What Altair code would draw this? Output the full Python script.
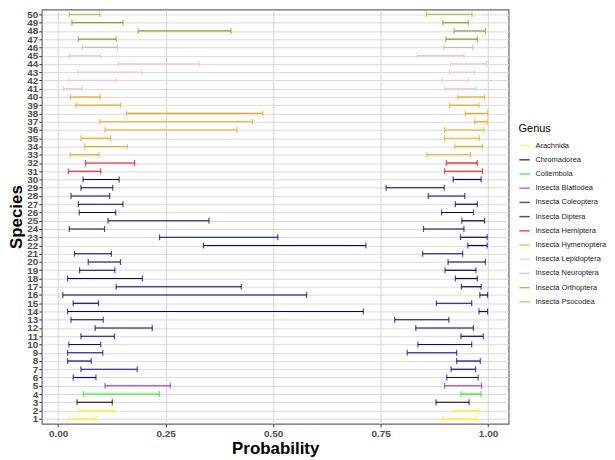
import altair as alt
import pandas as pd

species = list(range(1, 51))
genus = (["Arachnida"] * 2 + ["Chromadorea"] + ["Collembola"] + ["Insecta Blattodea"]
         + ["Insecta Coleoptera"] * 5 + ["Insecta Diptera"] * 20 + ["Insecta Hemiptera"] * 2
         + ["Insecta Hymenoptera"] * 8 + ["Insecta Lepidoptera"] * 5 + ["Insecta Neuroptera"]
         + ["Insecta Orthoptera"] * 3 + ["Insecta Psocodea"])

# low-probability interval (species 1..50)
lo_a = [0.026, 0.049, 0.044, 0.059, 0.109, 0.035, 0.053, 0.022, 0.022, 0.025,
        0.053, 0.086, 0.030, 0.022, 0.035, 0.011, 0.135, 0.022, 0.050, 0.070,
        0.038, 0.338, 0.236, 0.026, 0.116, 0.049, 0.047, 0.030, 0.053, 0.058,
        0.024, 0.064, 0.028, 0.062, 0.053, 0.109, 0.097, 0.159, 0.042, 0.029,
        0.012, 0.025, 0.046, 0.140, 0.026, 0.056, 0.047, 0.186, 0.032, 0.026]
hi_a = [0.088, 0.130, 0.126, 0.236, 0.261, 0.088, 0.184, 0.077, 0.104, 0.099,
        0.131, 0.219, 0.105, 0.710, 0.094, 0.578, 0.426, 0.196, 0.132, 0.145,
        0.124, 0.716, 0.511, 0.108, 0.351, 0.134, 0.151, 0.120, 0.127, 0.142,
        0.099, 0.178, 0.095, 0.161, 0.122, 0.416, 0.452, 0.476, 0.145, 0.098,
        0.056, 0.135, 0.195, 0.328, 0.099, 0.138, 0.135, 0.402, 0.151, 0.097]
# high-probability interval (species 1..50)
lo_b = [0.894, 0.919, 0.879, 0.937, 0.899, 0.904, 0.914, 0.927, 0.812, 0.837,
        0.937, 0.832, 0.783, 0.979, 0.880, 0.981, 0.938, 0.924, 0.900, 0.907,
        0.848, 0.953, 0.936, 0.850, 0.939, 0.892, 0.924, 0.861, 0.763, 0.919,
        0.899, 0.903, 0.858, 0.923, 0.899, 0.899, 0.969, 0.947, 0.911, 0.930,
        0.899, 0.893, 0.910, 0.913, 0.835, 0.897, 0.902, 0.921, 0.895, 0.857]
hi_b = [0.975, 0.980, 0.956, 0.984, 0.985, 0.977, 0.971, 0.982, 0.927, 0.962,
        0.989, 0.966, 0.909, 0.999, 0.962, 0.999, 0.984, 0.975, 0.972, 0.994,
        0.941, 0.998, 0.998, 0.944, 0.992, 0.966, 0.975, 0.946, 0.898, 0.984,
        0.987, 0.975, 0.959, 0.987, 0.980, 0.990, 0.998, 0.999, 0.979, 0.992,
        0.972, 0.954, 0.968, 0.997, 0.944, 0.965, 0.975, 0.994, 0.954, 0.963]

genus_domain = ["Arachnida", "Chromadorea", "Collembola", "Insecta Blattodea",
                "Insecta Coleoptera", "Insecta Diptera", "Insecta Hemiptera",
                "Insecta Hymenoptera", "Insecta Lepidoptera", "Insecta Neuroptera",
                "Insecta Orthoptera", "Insecta Psocodea"]
genus_colors = ["#FFFF00", "#000000", "#00FF00", "#A020F0", "#0000CD", "#000080",
                "#FF0000", "#FFA500", "#FFC0CB", "#BEBEBE", "#7BA428", "#9ACD32"]

rows = []
for i, s in enumerate(species):
    rows.append({"Species": s, "Genus": genus[i], "lo": lo_a[i], "hi": hi_a[i]})
    rows.append({"Species": s, "Genus": genus[i], "lo": lo_b[i], "hi": hi_b[i]})
df = pd.DataFrame(rows)

FONT = "Liberation Sans"

xscale = alt.Scale(domain=[-0.038, 1.048], nice=False, zero=False)
yscale = alt.Scale(domain=[0.4, 50.6], nice=False, zero=False)
legend = alt.Legend(
    title="Genus", orient="none", legendX=480, legendY=114,
    titleFont=FONT, titleFontSize=11, titleFontWeight="normal", titleColor="#000000",
    titlePadding=6,
    labelFont=FONT, labelFontSize=7.5, labelColor="#1A1A1A", labelOffset=5, labelLimit=200,
    symbolType="stroke", symbolSize=110, symbolStrokeWidth=1.5, rowPadding=4.3,
)
color = alt.Color("Genus:N", scale=alt.Scale(domain=genus_domain, range=genus_colors),
                  legend=legend)

xaxis = alt.Axis(values=[0, 0.25, 0.5, 0.75, 1.0], format=".2f", title="Probability",
                 labelFont=FONT, labelFontSize=10, labelFontWeight="bold", labelColor="#4D4D4D",
                 titleFont=FONT, titleFontSize=17, titleFontWeight="bold", titleColor="#000000",
                 titlePadding=2, labelPadding=2, tickSize=3, tickColor="#333333",
                 gridColor="#D4D4D4", domain=False)
yaxis = alt.Axis(values=species, title="Species", labelOverlap=False, labelFlush=False,
                 labelFont=FONT, labelFontSize=10, labelFontWeight="bold", labelColor="#4D4D4D",
                 titleFont=FONT, titleFontSize=17, titleFontWeight="bold", titleColor="#000000",
                 titlePadding=1, labelPadding=1, tickSize=3, tickColor="#333333",
                 gridColor="#D9D9D9", domain=False)

x_lo = alt.X("lo:Q", scale=xscale, axis=xaxis)
x_hi = alt.X("hi:Q", scale=xscale, axis=xaxis)
y_enc = alt.Y("Species:Q", scale=yscale, axis=yaxis)

base = alt.Chart(df)

rule = base.mark_rule(strokeWidth=1.2).encode(x=x_lo, x2="hi:Q", y=y_enc, color=color)
cap_lo = base.mark_tick(orient="vertical", size=6, thickness=1.2).encode(
    x=x_lo, y=y_enc, color=color)
cap_hi = base.mark_tick(orient="vertical", size=6, thickness=1.2).encode(
    x=x_hi, y=y_enc, color=color)

chart = alt.layer(rule, cap_lo, cap_hi).properties(
    width=470, height=417,
    background="white",
    autosize=alt.AutoSizeParams(type="none"),
    padding={"left": 34, "top": 0, "right": 99, "bottom": 35},
).configure_view(
    stroke="#666666", strokeWidth=1.2, fill="white"
)

chart.save("out.html", embed_options={"renderer": "svg", "actions": False})
